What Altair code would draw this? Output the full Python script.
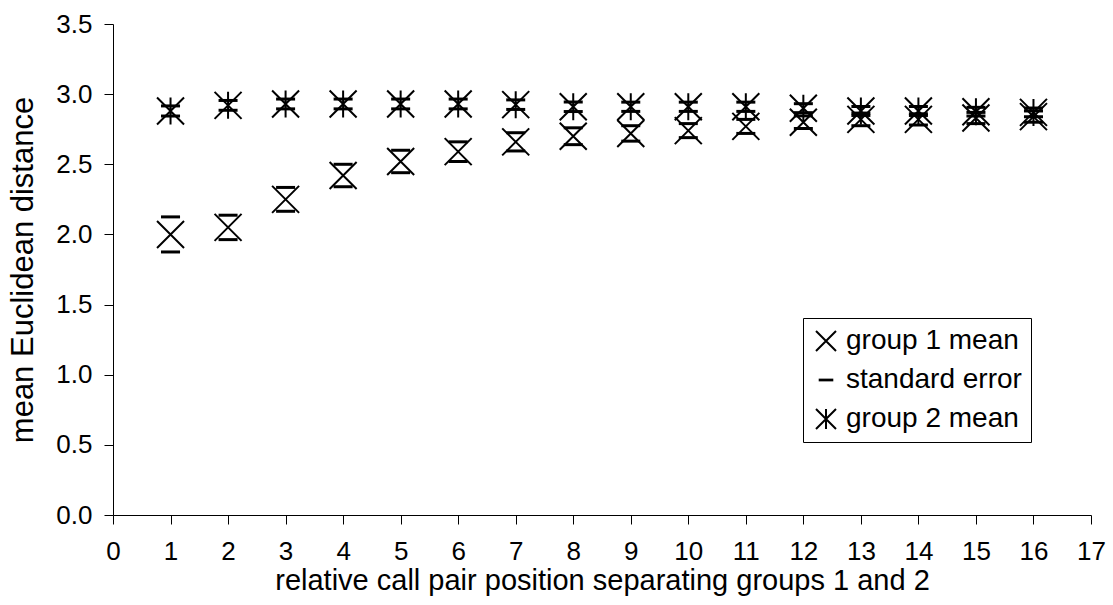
import altair as alt
import pandas as pd

positions = list(range(1, 17))
g1_mean = [2.00, 2.05, 2.25, 2.42, 2.52, 2.59, 2.66, 2.70, 2.72, 2.74, 2.77, 2.80, 2.82, 2.82, 2.83, 2.84]
g1_se = [0.125, 0.087, 0.085, 0.08, 0.08, 0.07, 0.065, 0.06, 0.055, 0.05, 0.05, 0.045, 0.045, 0.04, 0.04, 0.04]
g2_mean = [2.88, 2.92, 2.93, 2.93, 2.93, 2.93, 2.925, 2.91, 2.91, 2.91, 2.91, 2.90, 2.88, 2.88, 2.875, 2.87]
g2_se = [0.036, 0.035, 0.035, 0.035, 0.035, 0.035, 0.034, 0.034, 0.033, 0.033, 0.033, 0.032, 0.032, 0.032, 0.031, 0.031]

series_names = ["group 1 mean", "standard error", "group 2 mean"]
x_ticks = list(range(0, 18))
y_ticks = [0.0, 0.5, 1.0, 1.5, 2.0, 2.5, 3.0, 3.5]

rows = []
for p, m1, s1, m2, s2 in zip(positions, g1_mean, g1_se, g2_mean, g2_se):
    rows.append({"pos": p, "value": m1 - s1, "series": "standard error"})
    rows.append({"pos": p, "value": m1 + s1, "series": "standard error"})
    rows.append({"pos": p, "value": m2 - s2, "series": "standard error"})
    rows.append({"pos": p, "value": m2 + s2, "series": "standard error"})
    rows.append({"pos": p, "value": m1, "series": "group 1 mean"})
    rows.append({"pos": p, "value": m2, "series": "group 2 mean"})
df = pd.DataFrame(rows)

x_shape = "M-1,-1L1,1M-1,1L1,-1"
dash_shape = "M-0.63,-0.037L0.63,-0.037L0.63,0.037L-0.63,0.037Z"
star_shape = "M-1,-1L1,1M-1,1L1,-1M0,-1L0,1"

FONT = "Liberation Sans"
FS = 26

chart = alt.Chart(df).mark_point(
    size=729, filled=False, stroke="black", strokeWidth=2, opacity=1
).encode(
    x=alt.X("pos:Q", scale=alt.Scale(domain=[0, 17], nice=False, zero=False),
            axis=alt.Axis(values=x_ticks, title="relative call pair position separating groups 1 and 2",
                          format="d", labelPadding=14, titlePadding=2, titleFontSize=29,
                          labelFlush=False)),
    y=alt.Y("value:Q", scale=alt.Scale(domain=[0, 3.5], nice=False),
            axis=alt.Axis(values=y_ticks, format=".1f", title="mean Euclidean distance",
                          labelPadding=12, titlePadding=16, titleFontSize=31)),
    shape=alt.Shape("series:N",
                    scale=alt.Scale(domain=series_names, range=[x_shape, dash_shape, star_shape]),
                    legend=alt.Legend(title=None, orient="none", legendX=690, legendY=294,
                                      strokeColor="black", fillColor="white", padding=9,
                                      symbolSize=400, symbolStrokeWidth=2, symbolStrokeColor="black",
                                      labelFontSize=28, labelFont=FONT, labelColor="black",
                                      labelLimit=400, rowPadding=11, labelOffset=6)),
).properties(
    width=978, height=491,
    autosize=alt.AutoSizeParams(type="none"),
    padding={"left": 113, "top": 24, "right": 22, "bottom": 90},
).configure_view(stroke=None).configure_axis(
    grid=False, domainColor="black", tickColor="black", domainWidth=1, tickWidth=1,
    tickSize=9, labelFont=FONT, titleFont=FONT, labelFontSize=FS,
    labelColor="black", titleColor="black", titleFontWeight="normal"
)

chart.save("out.html", embed_options={"renderer": "svg", "actions": False})
